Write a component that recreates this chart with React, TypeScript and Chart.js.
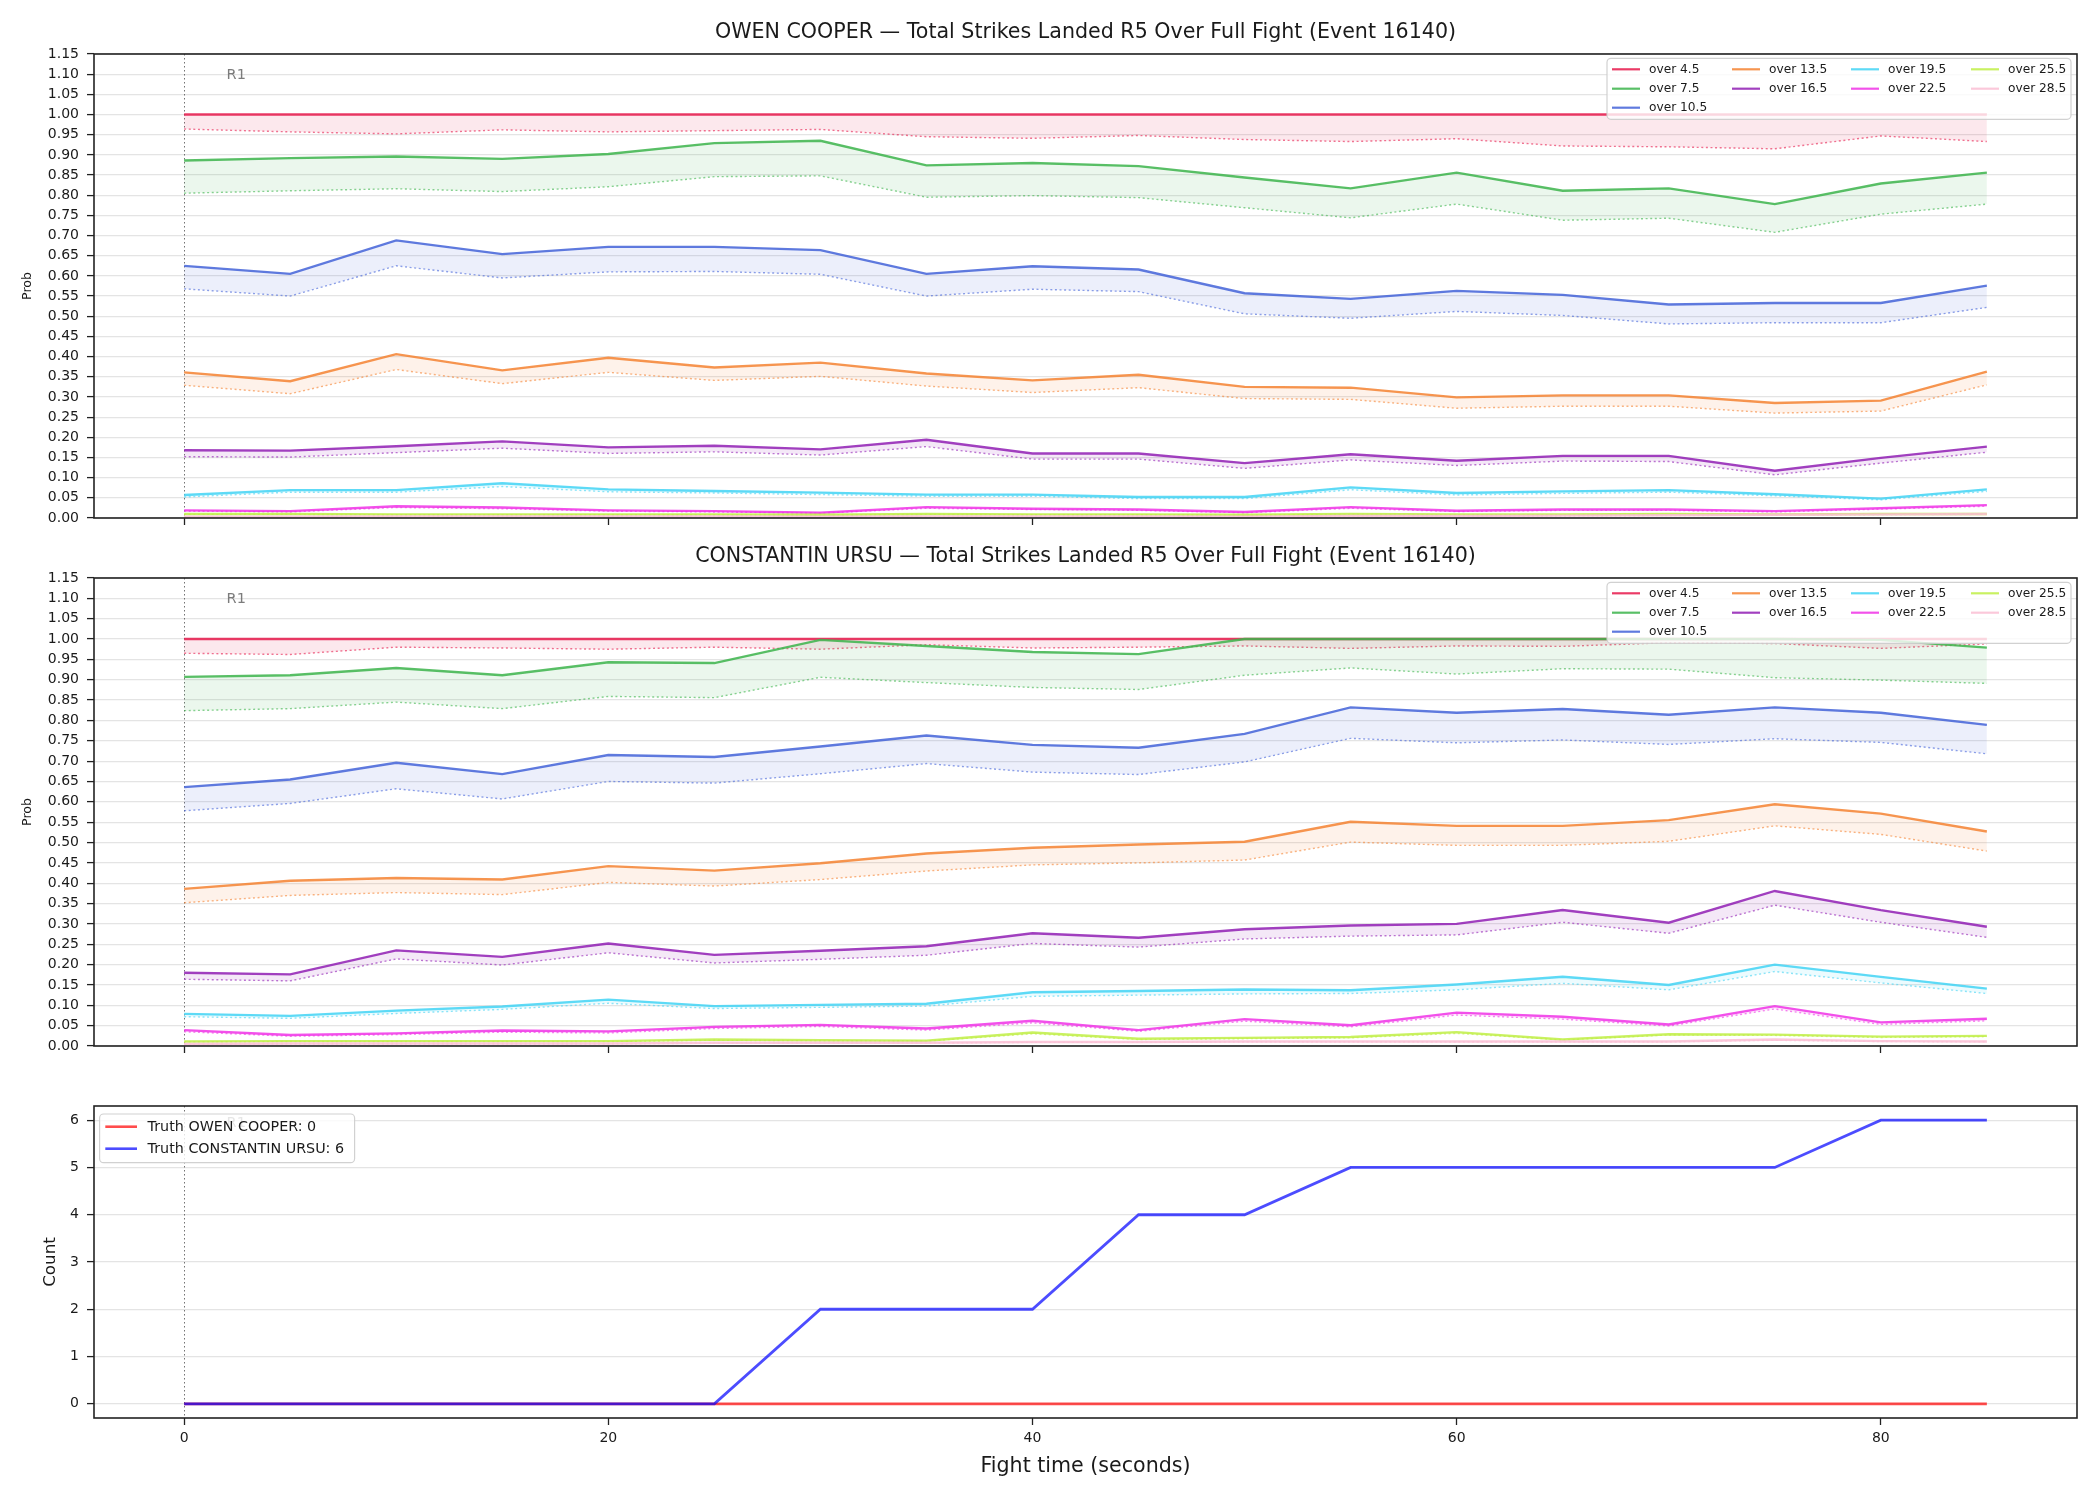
import React, { useEffect, useRef } from "react";
import { Chart, registerables } from "chart.js";

Chart.register(...registerables);

const FONT = "'DejaVu Sans', 'Liberation Sans', sans-serif";

// Fight clock (seconds) of every snapshot
const TIME = [0, 5, 10, 15, 20, 25, 30, 35, 40, 45, 50, 55, 60, 65, 70, 75, 80, 85];
const X_TICKS = [0, 20, 40, 60, 80];
const PROB_TICKS = [
  0.0, 0.05, 0.1, 0.15, 0.2, 0.25, 0.3, 0.35, 0.4, 0.45, 0.5, 0.55, 0.6, 0.65, 0.7, 0.75, 0.8, 0.85,
  0.9, 0.95, 1.0, 1.05, 1.1, 1.15,
];
const COUNT_TICKS = [0, 1, 2, 3, 4, 5, 6];

const LINE_LABELS = [
  "over 4.5", "over 7.5", "over 10.5", "over 13.5", "over 16.5",
  "over 19.5", "over 22.5", "over 25.5", "over 28.5",
];
const LINE_COLORS = [
  [230, 25, 75], [60, 180, 75], [67, 99, 216], [245, 130, 49], [145, 30, 180],
  [66, 212, 244], [240, 50, 230], [191, 239, 69], [250, 190, 212],
];

// OWEN COOPER: model probability (solid) and lower estimate (dotted) per line
const COOPER_4_5 = [1, 1, 1, 1, 1, 1, 1, 1, 1, 1, 1, 1, 1, 1, 1, 1, 1, 1];
const COOPER_4_5_LOW = [0.964, 0.957, 0.952, 0.962, 0.957, 0.96, 0.963, 0.945, 0.941, 0.948, 0.938, 0.933, 0.94, 0.922, 0.92, 0.915, 0.947, 0.933];
const COOPER_7_5 = [0.886, 0.892, 0.896, 0.89, 0.902, 0.929, 0.935, 0.874, 0.88, 0.872, 0.844, 0.817, 0.856, 0.811, 0.817, 0.778, 0.829, 0.856];
const COOPER_7_5_LOW = [0.805, 0.811, 0.816, 0.809, 0.821, 0.846, 0.848, 0.795, 0.799, 0.794, 0.769, 0.744, 0.778, 0.738, 0.743, 0.708, 0.753, 0.778];
const COOPER_10_5 = [0.625, 0.605, 0.688, 0.654, 0.672, 0.672, 0.664, 0.605, 0.624, 0.616, 0.557, 0.543, 0.563, 0.553, 0.529, 0.533, 0.533, 0.576];
const COOPER_10_5_LOW = [0.568, 0.55, 0.625, 0.595, 0.61, 0.611, 0.604, 0.55, 0.567, 0.561, 0.506, 0.495, 0.512, 0.502, 0.481, 0.484, 0.484, 0.522];
const COOPER_13_5 = [0.361, 0.339, 0.406, 0.366, 0.397, 0.373, 0.385, 0.358, 0.341, 0.355, 0.325, 0.323, 0.299, 0.304, 0.304, 0.285, 0.291, 0.363];
const COOPER_13_5_LOW = [0.329, 0.308, 0.368, 0.333, 0.361, 0.341, 0.351, 0.327, 0.311, 0.323, 0.296, 0.294, 0.272, 0.277, 0.277, 0.26, 0.265, 0.33];
const COOPER_16_5 = [0.168, 0.167, 0.178, 0.19, 0.175, 0.179, 0.17, 0.194, 0.16, 0.16, 0.136, 0.158, 0.142, 0.154, 0.154, 0.117, 0.149, 0.177];
const COOPER_16_5_LOW = [0.152, 0.151, 0.162, 0.173, 0.16, 0.164, 0.156, 0.177, 0.146, 0.146, 0.123, 0.144, 0.13, 0.141, 0.14, 0.107, 0.136, 0.163];
const COOPER_19_5 = [0.057, 0.069, 0.069, 0.086, 0.071, 0.067, 0.063, 0.058, 0.058, 0.052, 0.052, 0.076, 0.062, 0.066, 0.069, 0.059, 0.048, 0.071];
const COOPER_19_5_LOW = [0.052, 0.064, 0.064, 0.078, 0.065, 0.062, 0.058, 0.054, 0.054, 0.048, 0.048, 0.07, 0.057, 0.061, 0.064, 0.055, 0.045, 0.066];
const COOPER_22_5 = [0.019, 0.017, 0.029, 0.026, 0.019, 0.017, 0.013, 0.027, 0.023, 0.021, 0.015, 0.027, 0.018, 0.021, 0.021, 0.017, 0.024, 0.032];
const COOPER_22_5_LOW = [0.017, 0.015, 0.026, 0.023, 0.017, 0.015, 0.012, 0.024, 0.021, 0.019, 0.013, 0.024, 0.016, 0.019, 0.019, 0.015, 0.022, 0.029];
const COOPER_25_5 = [0.01, 0.01, 0.009, 0.009, 0.009, 0.009, 0.008, 0.01, 0.009, 0.009, 0.008, 0.01, 0.009, 0.009, 0.01, 0.009, 0.01, 0.01];
const COOPER_25_5_LOW = [0.009, 0.009, 0.008, 0.008, 0.008, 0.008, 0.007, 0.009, 0.008, 0.008, 0.007, 0.009, 0.008, 0.008, 0.009, 0.008, 0.009, 0.009];
const COOPER_28_5 = [0.003, 0.003, 0.004, 0.004, 0.004, 0.004, 0.003, 0.004, 0.004, 0.004, 0.003, 0.005, 0.005, 0.006, 0.007, 0.008, 0.009, 0.01];
const COOPER_28_5_LOW = [0.002, 0.002, 0.003, 0.003, 0.003, 0.003, 0.002, 0.003, 0.003, 0.003, 0.002, 0.004, 0.004, 0.005, 0.006, 0.007, 0.008, 0.009];

// CONSTANTIN URSU: model probability (solid) and lower estimate (dotted) per line
const URSU_4_5 = [1, 1, 1, 1, 1, 1, 1, 1, 1, 1, 1, 1, 1, 1, 1, 1, 1, 1];
const URSU_4_5_LOW = [0.965, 0.962, 0.98, 0.978, 0.975, 0.98, 0.975, 0.986, 0.978, 0.98, 0.983, 0.977, 0.983, 0.982, 0.991, 0.989, 0.977, 0.988];
const URSU_7_5 = [0.907, 0.911, 0.929, 0.911, 0.943, 0.941, 0.998, 0.983, 0.968, 0.963, 1.0, 1.0, 1.0, 1.0, 1.0, 1.0, 0.998, 0.979];
const URSU_7_5_LOW = [0.824, 0.829, 0.845, 0.829, 0.859, 0.856, 0.906, 0.893, 0.881, 0.876, 0.911, 0.929, 0.914, 0.927, 0.926, 0.905, 0.899, 0.891];
const URSU_10_5 = [0.636, 0.655, 0.696, 0.668, 0.715, 0.71, 0.736, 0.763, 0.74, 0.733, 0.767, 0.832, 0.819, 0.828, 0.814, 0.832, 0.819, 0.789];
const URSU_10_5_LOW = [0.578, 0.596, 0.632, 0.607, 0.65, 0.646, 0.669, 0.694, 0.673, 0.667, 0.698, 0.756, 0.745, 0.752, 0.741, 0.755, 0.746, 0.718];
const URSU_13_5 = [0.386, 0.406, 0.413, 0.409, 0.442, 0.431, 0.449, 0.473, 0.487, 0.495, 0.502, 0.551, 0.541, 0.541, 0.555, 0.594, 0.571, 0.527];
const URSU_13_5_LOW = [0.352, 0.37, 0.377, 0.372, 0.402, 0.393, 0.409, 0.43, 0.445, 0.45, 0.457, 0.501, 0.493, 0.493, 0.503, 0.541, 0.52, 0.479];
const URSU_16_5 = [0.18, 0.176, 0.235, 0.219, 0.252, 0.224, 0.234, 0.245, 0.277, 0.266, 0.287, 0.296, 0.3, 0.334, 0.303, 0.381, 0.334, 0.293];
const URSU_16_5_LOW = [0.164, 0.16, 0.214, 0.199, 0.229, 0.204, 0.213, 0.223, 0.252, 0.243, 0.263, 0.27, 0.273, 0.304, 0.277, 0.346, 0.304, 0.267];
const URSU_19_5 = [0.079, 0.074, 0.087, 0.097, 0.114, 0.098, 0.101, 0.104, 0.132, 0.135, 0.139, 0.137, 0.151, 0.17, 0.15, 0.2, 0.17, 0.141];
const URSU_19_5_LOW = [0.072, 0.068, 0.08, 0.09, 0.105, 0.092, 0.095, 0.098, 0.122, 0.125, 0.128, 0.129, 0.138, 0.154, 0.138, 0.183, 0.155, 0.129];
const URSU_22_5 = [0.039, 0.027, 0.031, 0.038, 0.036, 0.047, 0.052, 0.043, 0.062, 0.039, 0.066, 0.051, 0.082, 0.072, 0.053, 0.098, 0.058, 0.067];
const URSU_22_5_LOW = [0.035, 0.024, 0.028, 0.034, 0.032, 0.043, 0.048, 0.039, 0.057, 0.036, 0.061, 0.047, 0.076, 0.066, 0.049, 0.091, 0.053, 0.062];
const URSU_25_5 = [0.011, 0.012, 0.012, 0.012, 0.012, 0.016, 0.014, 0.013, 0.033, 0.018, 0.02, 0.022, 0.034, 0.016, 0.029, 0.028, 0.023, 0.025];
const URSU_25_5_LOW = [0.01, 0.011, 0.011, 0.011, 0.011, 0.014, 0.013, 0.012, 0.03, 0.016, 0.018, 0.02, 0.031, 0.015, 0.027, 0.026, 0.021, 0.023];
const URSU_28_5 = [0.005, 0.006, 0.006, 0.006, 0.006, 0.008, 0.008, 0.008, 0.01, 0.01, 0.011, 0.011, 0.011, 0.011, 0.011, 0.016, 0.012, 0.011];
const URSU_28_5_LOW = [0.004, 0.005, 0.005, 0.005, 0.005, 0.007, 0.007, 0.007, 0.009, 0.009, 0.01, 0.01, 0.01, 0.01, 0.01, 0.014, 0.011, 0.01];

// Running landed-strike counts
const TRUTH_COOPER = [0, 0, 0, 0, 0, 0, 0, 0, 0, 0, 0, 0, 0, 0, 0, 0, 0, 0];
const TRUTH_URSU = [0, 0, 0, 0, 0, 0, 2, 2, 2, 4, 4, 5, 5, 5, 5, 5, 6, 6];

const COOPER_SERIES = [
  [COOPER_4_5, COOPER_4_5_LOW], [COOPER_7_5, COOPER_7_5_LOW], [COOPER_10_5, COOPER_10_5_LOW],
  [COOPER_13_5, COOPER_13_5_LOW], [COOPER_16_5, COOPER_16_5_LOW], [COOPER_19_5, COOPER_19_5_LOW],
  [COOPER_22_5, COOPER_22_5_LOW], [COOPER_25_5, COOPER_25_5_LOW], [COOPER_28_5, COOPER_28_5_LOW],
];
const URSU_SERIES = [
  [URSU_4_5, URSU_4_5_LOW], [URSU_7_5, URSU_7_5_LOW], [URSU_10_5, URSU_10_5_LOW],
  [URSU_13_5, URSU_13_5_LOW], [URSU_16_5, URSU_16_5_LOW], [URSU_19_5, URSU_19_5_LOW],
  [URSU_22_5, URSU_22_5_LOW], [URSU_25_5, URSU_25_5_LOW], [URSU_28_5, URSU_28_5_LOW],
];

const rgba = (c: number[], a: number) => `rgba(${c[0]},${c[1]},${c[2]},${a})`;

const X_MIN = -4.25;
const X_MAX = 89.25;
const TEXT = "#1a1a1a";
const SPINE = "#222222";
const GRID = "#e4e4e4";

type LegendItem = { label: string; color: string; col: number; row: number };

type Decor = {
  title?: string;
  yLabel: string;
  yLabelX: number;
  yLabelSize: number;
  xLabel?: string;
  xLabelY?: number;
  r1Offset: number;
  legend: {
    anchor: "right" | "left";
    dx: number;
    dy: number;
    w: number;
    h: number;
    colX: number[];
    rowY: number[];
    handle: number;
    textGap: number;
    font: number;
    lineWidth: number;
    items: LegendItem[];
  };
};

function makeDecor(d: Decor) {
  return {
    id: "panelDecor",
    beforeDatasetsDraw(chart: any) {
      const { ctx, chartArea: a, scales } = chart;
      const x0 = Math.round(scales.x.getPixelForValue(0)) + 0.5;
      ctx.save();
      ctx.strokeStyle = "rgba(90,90,90,0.85)";
      ctx.lineWidth = 1;
      ctx.setLineDash([1.5, 2.5]);
      ctx.beginPath();
      ctx.moveTo(x0, a.top);
      ctx.lineTo(x0, a.bottom);
      ctx.stroke();
      ctx.restore();
    },
    afterDraw(chart: any) {
      const { ctx, chartArea: a, scales } = chart;
      ctx.save();
      // round marker
      ctx.fillStyle = "rgba(110,110,110,0.9)";
      ctx.font = `14.5px ${FONT}`;
      ctx.textAlign = "left";
      ctx.textBaseline = "middle";
      ctx.fillText("R1", scales.x.getPixelForValue(2), a.top + d.r1Offset);

      // frame
      ctx.strokeStyle = SPINE;
      ctx.lineWidth = 1.6;
      ctx.strokeRect(a.left, a.top, a.right - a.left, a.bottom - a.top);

      // legend
      const L = d.legend;
      const bx = L.anchor === "right" ? a.right - L.dx - L.w : a.left + L.dx;
      const by = a.top + L.dy;
      ctx.beginPath();
      if ((ctx as any).roundRect) (ctx as any).roundRect(bx, by, L.w, L.h, 4);
      else ctx.rect(bx, by, L.w, L.h);
      ctx.fillStyle = "rgba(255,255,255,0.8)";
      ctx.fill();
      ctx.strokeStyle = "rgba(204,204,204,0.9)";
      ctx.lineWidth = 1.2;
      ctx.stroke();
      ctx.font = `${L.font}px ${FONT}`;
      ctx.textBaseline = "middle";
      ctx.textAlign = "left";
      for (const it of L.items) {
        const hx = bx + L.colX[it.col];
        const hy = by + L.rowY[it.row];
        ctx.strokeStyle = it.color;
        ctx.lineWidth = L.lineWidth;
        ctx.beginPath();
        ctx.moveTo(hx, hy);
        ctx.lineTo(hx + L.handle, hy);
        ctx.stroke();
        ctx.fillStyle = TEXT;
        ctx.fillText(it.label, hx + L.textGap, hy + 0.5);
      }

      // titles
      ctx.fillStyle = TEXT;
      const cx = (a.left + a.right) / 2;
      if (d.title) {
        ctx.font = `20.6px ${FONT}`;
        ctx.textAlign = "center";
        ctx.textBaseline = "alphabetic";
        ctx.fillText(d.title, cx, a.top - 16);
      }
      if (d.xLabel && d.xLabelY !== undefined) {
        ctx.font = `20.6px ${FONT}`;
        ctx.textAlign = "center";
        ctx.textBaseline = "middle";
        ctx.fillText(d.xLabel, cx, d.xLabelY);
      }
      ctx.translate(d.yLabelX, (a.top + a.bottom) / 2);
      ctx.rotate(-Math.PI / 2);
      ctx.font = `${d.yLabelSize}px ${FONT}`;
      ctx.textAlign = "center";
      ctx.textBaseline = "middle";
      ctx.fillText(d.yLabel, 0, 0);
      ctx.restore();
    },
  };
}

function bandDatasets(series: number[][][]) {
  const out: any[] = [];
  series.forEach(([mean, low], k) => {
    const c = LINE_COLORS[k];
    out.push({
      label: LINE_LABELS[k],
      data: TIME.map((t, i) => ({ x: t, y: mean[i] })),
      borderColor: rgba(c, 0.85),
      backgroundColor: rgba(c, 0.1),
      borderWidth: 2.4,
      pointRadius: 0,
      fill: 2 * k + 1,
      order: -2 * k,
    });
    out.push({
      label: `${LINE_LABELS[k]} (low)`,
      data: TIME.map((t, i) => ({ x: t, y: low[i] })),
      borderColor: rgba(c, 0.6),
      borderWidth: 1.4,
      borderDash: [2, 2.6],
      pointRadius: 0,
      fill: false,
      order: -2 * k - 1,
    });
  });
  return out;
}

const PROB_LEGEND_COLS = [[0, 1, 2], [3, 4], [5, 6], [7, 8]];

function probLegendItems(): LegendItem[] {
  const items: LegendItem[] = [];
  PROB_LEGEND_COLS.forEach((col, ci) =>
    col.forEach((k, ri) =>
      items.push({ label: LINE_LABELS[k], color: rgba(LINE_COLORS[k], 0.85), col: ci, row: ri })
    )
  );
  return items;
}

function xScale(showLabels: boolean, height: number) {
  return {
    type: "linear",
    min: X_MIN,
    max: X_MAX,
    afterBuildTicks: (s: any) => {
      s.ticks = X_TICKS.map((v) => ({ value: v }));
    },
    afterFit: (s: any) => {
      s.height = height;
    },
    ticks: {
      display: showLabels,
      autoSkip: false,
      maxRotation: 0,
      padding: 5,
      color: TEXT,
      font: { family: FONT, size: 14 },
    },
    grid: { drawOnChartArea: false, tickLength: 7, tickColor: SPINE, tickWidth: 1.3 },
    border: { display: false },
  };
}

function yScale(min: number, max: number, ticks: number[], digits: number) {
  return {
    type: "linear",
    min,
    max,
    afterBuildTicks: (s: any) => {
      s.ticks = ticks.map((v) => ({ value: v }));
    },
    afterFit: (s: any) => {
      s.width = 94;
    },
    ticks: {
      autoSkip: false,
      padding: 8,
      color: TEXT,
      font: { family: FONT, size: 14 },
      callback: (v: any) => Number(v).toFixed(digits),
    },
    grid: { color: GRID, lineWidth: 1.2, tickLength: 7, tickColor: SPINE, tickWidth: 1.3 },
    border: { display: false },
  };
}

function probConfig(title: string, series: number[][][], padTop: number, xHeight: number) {
  return {
    type: "line",
    data: { datasets: bandDatasets(series) },
    options: {
      responsive: false,
      animation: false,
      devicePixelRatio: 1,
      events: [],
      layout: { padding: { top: padTop, right: 23, left: 0, bottom: 0 } },
      plugins: { legend: { display: false }, tooltip: { enabled: false }, title: { display: false } },
      scales: { x: xScale(false, xHeight), y: yScale(0, 1.15, PROB_TICKS, 2) },
    },
    plugins: [
      makeDecor({
        title,
        yLabel: "Prob",
        yLabelX: 28,
        yLabelSize: 12.6,
        r1Offset: 21,
        legend: {
          anchor: "right",
          dx: 6,
          dy: 4.3,
          w: 464,
          h: 61,
          colX: [5, 125, 244, 364],
          rowY: [11, 30.4, 49.4],
          handle: 28,
          textGap: 37,
          font: 12.2,
          lineWidth: 2.2,
          items: probLegendItems(),
        },
      }),
    ],
  };
}

function truthConfig() {
  const red = [255, 0, 0];
  const blue = [0, 0, 255];
  return {
    type: "line",
    data: {
      datasets: [
        {
          label: "Truth OWEN COOPER: 0",
          data: TIME.map((t, i) => ({ x: t, y: TRUTH_COOPER[i] })),
          borderColor: rgba(red, 0.7),
          borderWidth: 2.8,
          pointRadius: 0,
          fill: false,
          order: 2,
        },
        {
          label: "Truth CONSTANTIN URSU: 6",
          data: TIME.map((t, i) => ({ x: t, y: TRUTH_URSU[i] })),
          borderColor: rgba(blue, 0.7),
          borderWidth: 2.8,
          pointRadius: 0,
          fill: false,
          order: 1,
        },
      ],
    },
    options: {
      responsive: false,
      animation: false,
      devicePixelRatio: 1,
      events: [],
      layout: { padding: { top: 36, right: 23, left: 0, bottom: 0 } },
      plugins: { legend: { display: false }, tooltip: { enabled: false }, title: { display: false } },
      scales: { x: xScale(true, 82), y: yScale(-0.3, 6.3, COUNT_TICKS, 0) },
    },
    plugins: [
      makeDecor({
        yLabel: "Count",
        yLabelX: 51,
        yLabelSize: 16.7,
        xLabel: "Fight time (seconds)",
        xLabelY: 397,
        r1Offset: 17,
        legend: {
          anchor: "left",
          dx: 5.6,
          dy: 8,
          w: 255,
          h: 48.7,
          colX: [5.7],
          rowY: [12.7, 34.7],
          handle: 31.7,
          textGap: 42.3,
          font: 14.3,
          lineWidth: 2.6,
          items: [
            { label: "Truth OWEN COOPER: 0", color: rgba(red, 0.7), col: 0, row: 0 },
            { label: "Truth CONSTANTIN URSU: 6", color: rgba(blue, 0.7), col: 0, row: 1 },
          ],
        },
      }),
    ],
  };
}

function Panel({ top, height, config }: { top: number; height: number; config: () => any }) {
  const ref = useRef<HTMLCanvasElement | null>(null);
  useEffect(() => {
    if (!ref.current) return;
    const chart = new Chart(ref.current, config() as any);
    return () => chart.destroy();
  }, [config]);
  return (
    <canvas
      ref={ref}
      width={2100}
      height={height}
      style={{ position: "absolute", left: 0, top, width: 2100, height }}
    />
  );
}

const topConfig = () =>
  probConfig("OWEN COOPER — Total Strikes Landed R5 Over Full Fight (Event 16140)", COOPER_SERIES, 54, 22);
const midConfig = () =>
  probConfig("CONSTANTIN URSU — Total Strikes Landed R5 Over Full Fight (Event 16140)", URSU_SERIES, 38, 24);

export default function App() {
  return (
    <div
      style={{
        position: "absolute",
        left: 0,
        top: 0,
        width: 2100,
        height: 1500,
        background: "#ffffff",
        overflow: "hidden",
      }}
    >
      <Panel top={0} height={540} config={topConfig} />
      <Panel top={540} height={530} config={midConfig} />
      <Panel top={1070} height={430} config={truthConfig} />
    </div>
  );
}
